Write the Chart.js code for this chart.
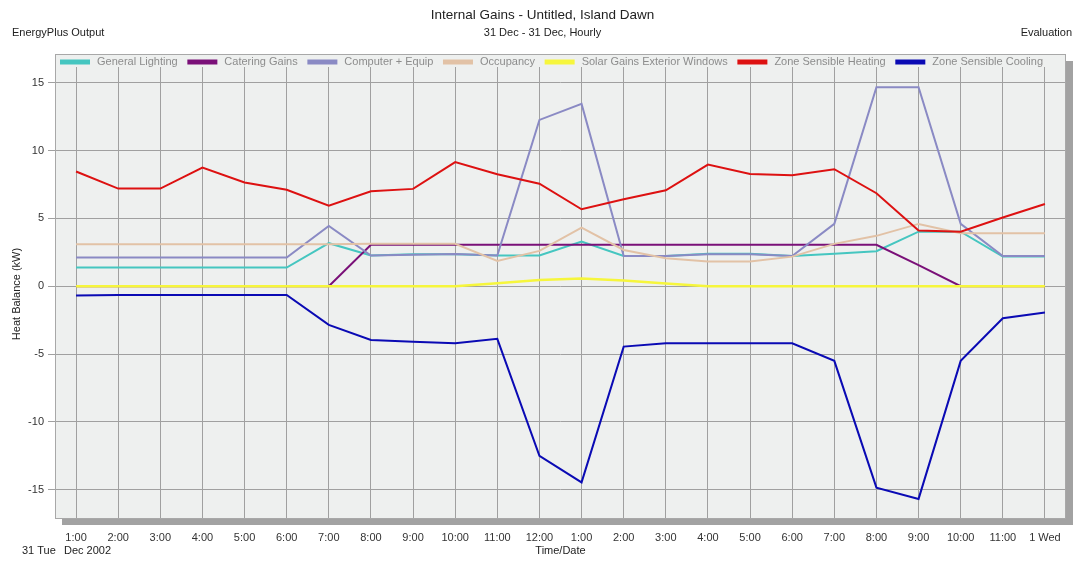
<!DOCTYPE html>
<html>
<head>
<meta charset="UTF-8">
<title>Internal Gains - Untitled, Island Dawn</title>
<script src="https://cdn.jsdelivr.net/npm/chart.js"></script>
<style>
    body { margin: 0; background: #fff; }
    #wrap { width: 1077px; height: 561px; }
</style>
</head>
<body>
<div id="wrap"><canvas id="gains" width="1077" height="561"></canvas></div>
<script>
// hourly values, 31 Dec 2002 (kW)
const hourLabels = ['1:00','2:00','3:00','4:00','5:00','6:00','7:00','8:00','9:00','10:00','11:00','12:00',
                    '1:00','2:00','3:00','4:00','5:00','6:00','7:00','8:00','9:00','10:00','11:00','1 Wed'];
const generalLighting = [1.37,1.37,1.37,1.37,1.37,1.37,3.17,2.26,2.36,2.36,2.26,2.26,3.29,2.23,2.23,2.4,2.4,2.23,2.4,2.58,4.02,4.02,2.18,2.18];
const cateringGains = [0,0,0,0,0,0,0,3.05,3.05,3.05,3.05,3.05,3.05,3.05,3.05,3.05,3.05,3.05,3.05,3.05,1.55,0,0,0];
const computerEquip = [2.11,2.11,2.11,2.11,2.11,2.11,4.44,2.26,2.31,2.38,2.26,12.25,13.43,2.23,2.23,2.36,2.36,2.23,4.59,14.66,14.66,4.59,2.23,2.23];
const occupancy = [3.09,3.09,3.09,3.09,3.09,3.09,3.09,3.12,3.12,3.12,1.86,2.6,4.32,2.67,2.06,1.82,1.82,2.18,3.12,3.71,4.59,3.9,3.9,3.9];
const solarGains = [0,0,0,0,0,0,0,0,0,0,0.22,0.46,0.57,0.42,0.2,0,0,0,0,0,0,0,0,0];
const zoneHeating = [8.45,7.19,7.19,8.74,7.64,7.1,5.94,7.0,7.17,9.14,8.25,7.55,5.67,6.41,7.07,8.96,8.27,8.18,8.62,6.85,4.1,4.02,5.06,6.06];
const zoneCooling = [-0.69,-0.64,-0.64,-0.64,-0.64,-0.64,-2.85,-3.96,-4.1,-4.2,-3.88,-12.5,-14.45,-4.45,-4.2,-4.2,-4.2,-4.2,-5.5,-14.84,-15.67,-5.5,-2.36,-1.94];

const seriesNames = ['General Lighting','Catering Gains','Computer + Equip','Occupancy','Solar Gains Exterior Windows','Zone Sensible Heating','Zone Sensible Cooling'];
const seriesData = [generalLighting, cateringGains, computerEquip, occupancy, solarGains, zoneHeating, zoneCooling];
const seriesColors = ['#45c6c0','#7a1078','#8a8ac4','#e2c2a6','#f6f63c','#dd1111','#0a0ab4'];

const FONT = '"Liberation Sans", Arial, sans-serif';

const frame = {
    id: 'frame',
    beforeDraw(chart) {
        const c = chart.ctx, a = chart.chartArea;
        c.save();
        c.fillStyle = '#fff';
        c.fillRect(0, 0, chart.width, chart.height);
        // shadow + plot box (legend band sits inside the box)
        c.fillStyle = '#a2a2a2';
        c.fillRect(a.left + 7, a.top - 6, a.right - a.left, a.bottom - a.top + 12);
        c.fillStyle = '#eef0ef';
        c.fillRect(a.left, a.top - 13, a.right - a.left, a.bottom - a.top + 13);
        c.restore();
    },
    afterDraw(chart) {
        const c = chart.ctx, a = chart.chartArea;
        c.save();
        c.strokeStyle = '#a8a8a8';
        c.lineWidth = 1;
        c.strokeRect(a.left + 0.5, a.top - 12.5, a.right - a.left - 1, a.bottom - a.top + 12);

        // legend
        c.font = '11px ' + FONT;
        c.textBaseline = 'middle';
        const widths = seriesNames.map(n => 30 + 7 + c.measureText(n).width);
        const x0 = a.left + 5, x1 = a.right - 23;
        const gap = (x1 - x0 - widths.reduce((s, w) => s + w, 0)) / (seriesNames.length - 1);
        let x = x0;
        const ly = a.top - 5;
        seriesNames.forEach((n, i) => {
            c.fillStyle = seriesColors[i];
            c.fillRect(x, ly - 2.5, 30, 5);
            c.fillStyle = '#8c8c8c';
            c.textAlign = 'left';
            c.fillText(n, x + 37, ly);
            x += widths[i] + gap;
        });

        // headings
        c.fillStyle = '#222';
        c.textAlign = 'center';
        c.font = '13.5px ' + FONT;
        c.fillText('Internal Gains - Untitled, Island Dawn', (a.left + a.right) / 2 - 18, 15);
        c.font = '11px ' + FONT;
        c.fillText('31 Dec - 31 Dec, Hourly', (a.left + a.right) / 2 - 18, 33);
        c.textAlign = 'left';
        c.fillText('EnergyPlus Output', 12, 33);
        c.textAlign = 'right';
        c.fillText('Evaluation', 1072, 33);

        // axis captions
        c.textAlign = 'center';
        c.fillText('Time/Date', (a.left + a.right) / 2, 551);
        c.textAlign = 'left';
        c.fillText('31 Tue', 22, 551);
        c.fillText('Dec 2002', 64, 551);
        c.translate(17, (a.top + a.bottom) / 2 + 1);
        c.rotate(-Math.PI / 2);
        c.textAlign = 'center';
        c.fillText('Heat Balance (kW)', 0, 0);
        c.restore();
    }
};

new Chart(document.getElementById('gains'), {
    type: 'line',
    data: {
        labels: hourLabels,
        datasets: seriesNames.map((n, i) => ({
            label: n,
            data: seriesData[i],
            borderColor: seriesColors[i],
            borderWidth: i === 4 ? 2.5 : 2,
            pointRadius: 0,
            tension: 0,
            fill: false,
            order: -i
        }))
    },
    options: {
        responsive: false,
        animation: false,
        layout: { padding: { top: 67, right: 11, left: 0, bottom: 0 } },
        plugins: { legend: { display: false }, tooltip: { enabled: false } },
        scales: {
            x: {
                offset: true,
                grid: { color: '#a0a0a0', drawTicks: false },
                border: { display: false },
                ticks: { font: { family: FONT, size: 11 }, color: '#333', padding: 12, maxRotation: 0, autoSkip: false },
                afterFit: s => { s.height = 42; }
            },
            y: {
                min: -17.15,
                max: 16.15,
                grid: { color: '#a0a0a0', tickLength: 7 },
                border: { display: false },
                ticks: { stepSize: 5, includeBounds: false, font: { family: FONT, size: 11 }, color: '#333', padding: 4 },
                afterFit: s => { s.width = 55; }
            }
        }
    },
    plugins: [frame]
});
</script>
</body>
</html>
